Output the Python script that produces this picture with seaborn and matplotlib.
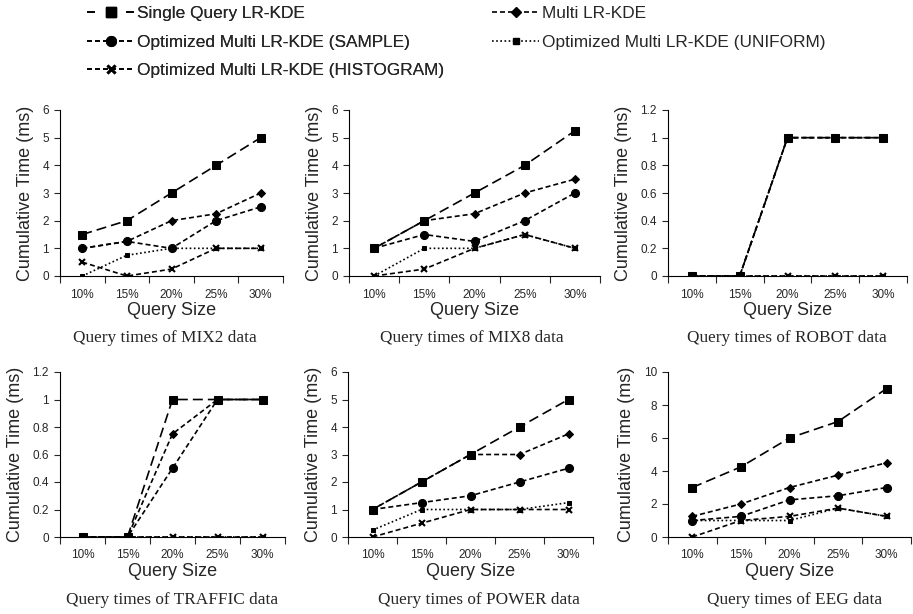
import numpy as np
import pandas as pd
import matplotlib
matplotlib.use("Agg")
import matplotlib.pyplot as plt
from matplotlib.lines import Line2D
import seaborn as sns

sns.set_theme(style="white")
plt.rcParams['font.family'] = ['Liberation Sans', 'DejaVu Sans']

categories = ["10%", "15%", "20%", "25%", "30%"]
series_names = ["Single Query LR-KDE", "Multi LR-KDE",
                "Optimized Multi LR-KDE (SAMPLE)", "Optimized Multi LR-KDE (UNIFORM)",
                "Optimized Multi LR-KDE (HISTOGRAM)"]

mix2_single = [1.5, 2, 3, 4, 5]
mix2_multi = [1, 1.25, 2, 2.25, 3]
mix2_sample = [1, 1.25, 1, 2, 2.5]
mix2_uniform = [0, 0.75, 1, 1, 1]
mix2_hist = [0.5, 0, 0.25, 1, 1]

mix8_single = [1, 2, 3, 4, 5.25]
mix8_multi = [1, 2, 2.25, 3, 3.5]
mix8_sample = [1, 1.5, 1.25, 2, 3]
mix8_uniform = [0, 1, 1, 1.5, 1]
mix8_hist = [0, 0.25, 1, 1.5, 1]

robot_single = [0, 0, 1, 1, 1]
robot_multi = [0, 0, 1, 1, 1]
robot_sample = [0, 0, 1, 1, 1]
robot_uniform = [0, 0, 0, 0, 0]
robot_hist = [0, 0, 0, 0, 0]

traffic_single = [0, 0, 1, 1, 1]
traffic_multi = [0, 0, 0.75, 1, 1]
traffic_sample = [0, 0, 0.5, 1, 1]
traffic_uniform = [0, 0, 0, 0, 0]
traffic_hist = [0, 0, 0, 0, 0]

power_single = [1, 2, 3, 4, 5]
power_multi = [1, 2, 3, 3, 3.75]
power_sample = [1, 1.25, 1.5, 2, 2.5]
power_uniform = [0.25, 1, 1, 1, 1.25]
power_hist = [0, 0.5, 1, 1, 1]

eeg_single = [3, 4.25, 6, 7, 9]
eeg_multi = [1.25, 2, 3, 3.75, 4.5]
eeg_sample = [1, 1.25, 2.25, 2.5, 3]
eeg_uniform = [1, 1, 1, 1.75, 1.25]
eeg_hist = [0, 1, 1.25, 1.75, 1.25]

captions = ["Query times of MIX2 data", "Query times of MIX8 data", "Query times of ROBOT data",
            "Query times of TRAFFIC data", "Query times of POWER data", "Query times of EEG data"]
panels = [
    [mix2_single, mix2_multi, mix2_sample, mix2_uniform, mix2_hist],
    [mix8_single, mix8_multi, mix8_sample, mix8_uniform, mix8_hist],
    [robot_single, robot_multi, robot_sample, robot_uniform, robot_hist],
    [traffic_single, traffic_multi, traffic_sample, traffic_uniform, traffic_hist],
    [power_single, power_multi, power_sample, power_uniform, power_hist],
    [eeg_single, eeg_multi, eeg_sample, eeg_uniform, eeg_hist],
]
ylims = [(0, 6, 1), (0, 6, 1), (0, 1.2, 0.2), (0, 1.2, 0.2), (0, 6, 1), (0, 10, 2)]

styles = [
    dict(marker='s', markersize=6, linestyle=(0, (6, 3))),
    dict(marker='D', markersize=4.5, linestyle=(0, (3, 1.8))),
    dict(marker='o', markersize=5.8, linestyle=(0, (3, 1.8))),
    dict(marker='s', markersize=3.3, linestyle=(0, (1, 1.5))),
    dict(marker='x', markersize=5, markeredgewidth=1.5, linestyle=(0, (3, 1.8))),
]
legend_styles = [
    dict(marker='s', markersize=7, linestyle=(0, (4.8, 18.6))),
    dict(marker='D', markersize=5, linestyle=(0, (3, 1.8))),
    dict(marker='o', markersize=7, linestyle=(0, (3, 1.8))),
    dict(marker='s', markersize=4, linestyle=(0, (1, 1.5))),
    dict(marker='x', markersize=6, markeredgewidth=2, linestyle=(0, (3, 1.8))),
]

W, H = 913, 614
fig = plt.figure(figsize=(W / 100, H / 100), dpi=100)

# axes rectangles in pixels: left, right, top, bottom
rects_px = [
    (60, 283, 110, 276), (349, 600, 110, 276), (668, 907, 110, 276),
    (60, 285, 372, 537), (348, 593, 372, 537), (668, 911, 372, 537),
]
caption_px = [(165, 338), (472, 338), (787, 338), (172, 600), (479, 600), (795, 600)]

axes = []
for i, (l, r, t, b) in enumerate(rects_px):
    ax = fig.add_axes([l / W, 1 - b / H, (r - l) / W, (b - t) / H])
    axes.append(ax)
    df = pd.DataFrame({"pos": np.arange(len(categories))})
    for name, vals, st in zip(series_names, panels[i], styles):
        d = df.assign(val=vals)
        sns.lineplot(data=d, x="pos", y="val", ax=ax, color='black', lw=1.2,
                     markeredgecolor='black', label=name, legend=False, **st)
    y0, y1, step = ylims[i]
    ax.set_ylim(y0, y1)
    ax.set_yticks(np.arange(y0, y1 + step / 2, step))
    ax.set_yticklabels([f"{v:g}" for v in np.arange(y0, y1 + step / 2, step)], fontsize=8.5)
    ax.set_xlim(-0.5, len(categories) - 0.5)
    ax.set_xticks(np.arange(len(categories)))
    ax.set_xticklabels(categories, fontsize=8.5)
    ax.set_xticks(np.arange(len(categories) + 1) - 0.5, minor=True)
    ax.tick_params(axis='x', which='major', length=0, pad=9)
    ax.tick_params(axis='x', which='minor', length=5, width=0.8, direction='out', bottom=True)
    ax.tick_params(axis='y', which='major', length=4, width=0.8, direction='out', left=True, pad=4)
    for s in ['top', 'right']:
        ax.spines[s].set_visible(False)
    for s in ['left', 'bottom']:
        ax.spines[s].set_color('black')
        ax.spines[s].set_linewidth(0.8)
    ax.set_xlabel("Query Size", fontsize=13, labelpad=1)
    ax.set_ylabel("Cumulative Time (ms)", fontsize=13, labelpad=6)
    ax.set_facecolor('white')
    cx, cy = caption_px[i]
    fig.text(cx / W, 1 - cy / H, captions[i], ha='center', va='center', fontsize=12.4,
             family=['Liberation Serif', 'DejaVu Serif'])

proxies = [Line2D([], [], color='black', lw=1.2, markeredgecolor='black', **st)
           for st in legend_styles]
leg_kw = dict(loc='upper left', ncol=1, frameon=False, handlelength=2.73, handletextpad=0.17,
              labelspacing=0.78, borderpad=0, borderaxespad=0,
              prop={'family': ['Liberation Sans', 'DejaVu Sans'], 'size': 12.4})
col1 = [0, 2, 4]
col2 = [1, 3]
leg1 = fig.legend([proxies[k] for k in col1], [series_names[k] for k in col1],
                  bbox_to_anchor=(87 / W, 1 - 6 / H), **leg_kw)
fig.add_artist(leg1)
fig.legend([proxies[k] for k in col2], [series_names[k] for k in col2],
           bbox_to_anchor=(492 / W, 1 - 6 / H), **leg_kw)

fig.savefig("out.png", dpi=100, facecolor='white')
